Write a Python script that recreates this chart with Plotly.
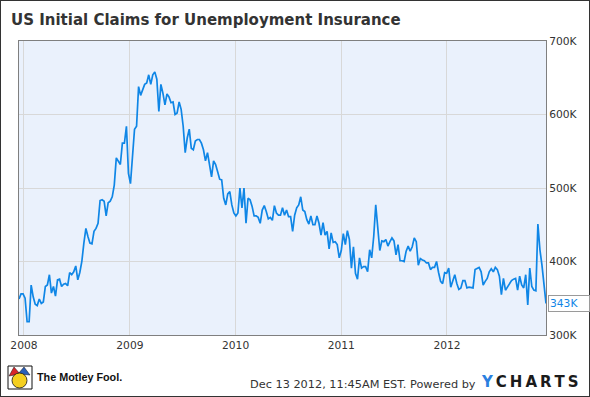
import pandas as pd
import plotly.graph_objects as go

# Weekly initial jobless claims (thousands), week ending Sat, from 2007-12-15 to 2012-12-08
claims_2008 = [349, 356, 356, 350, 318, 318, 368, 352, 342, 340, 349, 343, 345, 366, 368, 382,
               357, 366, 353, 375, 376, 366, 369, 370, 367, 385, 382, 386, 394, 375, 385, 400,
               425, 445, 434, 425, 424, 441, 445, 452, 483, 484, 482, 462, 480, 482, 488]
claims_2009 = [504, 541, 536, 532, 561, 561, 584, 520, 506, 543, 580, 584, 638, 626, 634, 641,
               643, 654, 641, 654, 658, 648, 604, 641, 629, 613, 628, 624, 616, 617, 600, 602,
               617, 607, 584, 548, 568, 580, 554, 552, 564, 566, 566, 561, 552]
claims_2010 = [537, 548, 529, 515, 537, 532, 522, 512, 511, 486, 477, 492, 495, 477, 466, 462,
               466, 500, 473, 500, 452, 486, 484, 475, 462, 462, 460, 452, 470, 476, 468, 458,
               460, 456, 476, 466, 463, 463, 473, 463, 470, 461, 461, 441, 463]
claims_2011 = [473, 477, 488, 470, 468, 457, 451, 462, 450, 450, 462, 452, 436, 453, 436, 441,
               417, 439, 426, 427, 423, 405, 415, 438, 423, 442, 430, 391, 420, 384, 376, 405,
               391, 393, 393, 386, 416, 405, 434, 477, 439, 415, 428, 427, 430, 421, 427]
claims_2012a = [432, 428, 409, 423, 401, 401, 400, 414, 421, 414, 420, 432, 427, 395, 404, 402,
                401, 398, 398, 389, 392, 392, 400, 385, 373, 370, 385, 384, 391, 365, 373, 382,
                370, 362, 364, 374, 374, 364, 365, 365, 364, 389, 390, 392, 386, 368, 373]
claims_2012b = [377, 386, 390, 386, 392, 389, 380, 355, 377, 361, 366, 370, 374, 376, 377, 361,
                380, 368, 364, 382, 341, 391, 366, 361, 360, 451, 416, 395, 370, 343]

claims = claims_2008 + claims_2009 + claims_2010 + claims_2011 + claims_2012a + claims_2012b
dates = pd.date_range("2007-12-15", periods=len(claims), freq="7D")

y_ticks = [300, 400, 500, 600, 700]
y_tick_labels = ["300K", "400K", "500K", "600K", "700K"]

title_text = "US Initial Claims for Unemployment Insurance"
footer_text = "Dec 13 2012, 11:45AM EST. Powered by"
last_label = f"{claims[-1]}K"

LINE = "#0f86e6"
W, H = 590, 397
ML, MR, MT, MB = 19, 44, 41, 62
PW, PH = W - ML - MR, H - MT - MB


def px(xp):
    return (xp - ML) / PW


def py(yp):
    return (H - MB - yp) / PH


fig = go.Figure()
fig.add_trace(go.Scatter(x=dates, y=claims, mode="lines",
                         line=dict(color=LINE, width=1.7), hoverinfo="x+y"))

fig.update_layout(
    width=W, height=H,
    margin=dict(l=ML, r=MR, t=MT, b=MB, autoexpand=False),
    paper_bgcolor="white", plot_bgcolor="#eaf1fc",
    showlegend=False,
    font=dict(family="DejaVu Sans", size=10.7, color="#333333"),
    title=dict(text="<b>" + title_text + "</b>", xref="container", yref="container",
               x=11 / W, xanchor="left", y=1 - 20 / H, yanchor="middle",
               font=dict(family="DejaVu Sans", size=15, color="#333333")),
)
fig.update_xaxes(type="date", range=[dates[0], dates[-1]], tick0="2008-01-01", dtick="M12",
                 tickformat="%Y", showgrid=True, gridcolor="#d8d8d8", gridwidth=1,
                 showline=True, linecolor="#7f7f7f", linewidth=1, mirror=True, ticks="",
                 zeroline=False)
fig.update_yaxes(side="right", range=[300, 700], tickvals=y_ticks, ticktext=y_tick_labels,
                 showgrid=True, gridcolor="#d8d8d8", gridwidth=1,
                 showline=True, linecolor="#7f7f7f", linewidth=1, mirror=True, ticks="",
                 zeroline=False)

# last value flag
fig.add_annotation(x=dates[-1], y=claims[-1], xref="x", yref="y", text=last_label,
                   showarrow=False, xanchor="left", xshift=2, align="left",
                   width=38, height=13, bgcolor="white", bordercolor="#9a9a9a",
                   borderwidth=1, borderpad=1, font=dict(color=LINE, size=10.7))

# footer
fig.add_annotation(x=px(248), y=py(384), xref="paper", yref="paper", text=footer_text,
                   showarrow=False, xanchor="left", yanchor="middle",
                   font=dict(family="DejaVu Sans", size=11.3, color="#333333"))
fig.add_annotation(x=px(479), y=py(382), xref="paper", yref="paper",
                   text="<b><span style='color:#2b7fe0'>Y</span>\u2009C\u2009H\u2009A\u2009R\u2009T\u2009S</b>",
                   showarrow=False, xanchor="left", yanchor="middle",
                   font=dict(family="DejaVu Sans", size=15, color="#1b1b1b"))
fig.add_annotation(x=px(35), y=py(377), xref="paper", yref="paper", text="<b>The Motley Fool.</b>",
                   showarrow=False, xanchor="left", yanchor="middle",
                   font=dict(family="Liberation Sans, Arial, sans-serif",
                             size=10.8, color="#111111"))

shapes = [
    # outer frame
    dict(type="rect", xref="paper", yref="paper", x0=px(0), x1=px(W), y0=py(H), y1=py(0),
         line=dict(color="#333333", width=2), fillcolor="rgba(0,0,0,0)", layer="above"),
    # jester icon (simplified)
    dict(type="rect", xref="paper", yref="paper", x0=px(8), x1=px(32), y0=py(389), y1=py(366),
         line=dict(color="#111111", width=1), fillcolor="#ffffff"),
    dict(type="path", xref="paper", yref="paper",
         path=f"M {px(9)} {py(376)} L {px(14)} {py(367)} L {px(20)} {py(374)} Z",
         line=dict(color="#111", width=0.5), fillcolor="#d8262b"),
    dict(type="path", xref="paper", yref="paper",
         path=f"M {px(18)} {py(374)} L {px(24)} {py(367)} L {px(30)} {py(375)} Z",
         line=dict(color="#111", width=0.5), fillcolor="#2a5fb8"),
    dict(type="circle", xref="paper", yref="paper", x0=px(12), x1=px(27), y0=py(388), y1=py(373),
         line=dict(color="#111", width=0.8), fillcolor="#f4cf1f"),
]
fig.update_layout(shapes=shapes)

fig.write_html("out.html", config={"displayModeBar": False},
               post_script="document.body.style.margin='0';document.body.style.overflow='hidden';")
